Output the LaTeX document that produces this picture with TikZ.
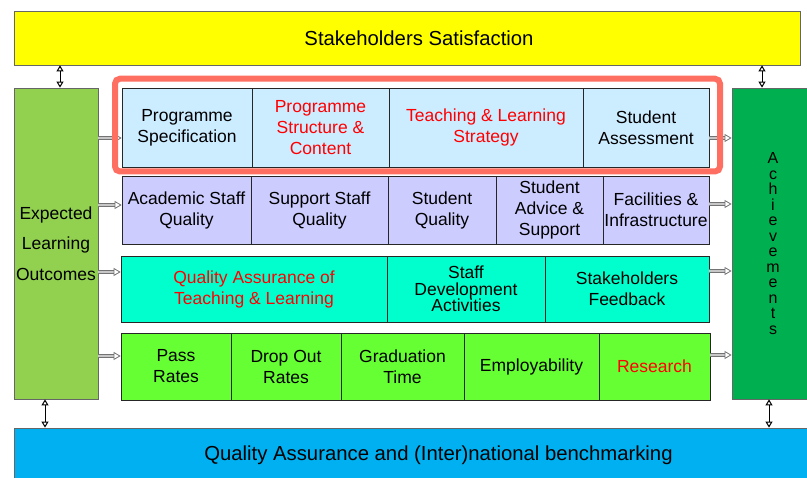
\documentclass[tikz,border=0pt]{standalone}
\usepackage{fontspec}
\setmainfont{Liberation Sans}
\usetikzlibrary{arrows.meta,positioning}
\definecolor{sunyellow}{RGB}{255,255,0}
\definecolor{outcomegreen}{RGB}{146,208,80}
\definecolor{achievegreen}{RGB}{0,176,80}
\definecolor{benchblue}{RGB}{0,176,240}
\definecolor{progblue}{RGB}{204,236,255}
\definecolor{inputlilac}{RGB}{204,204,255}
\definecolor{qaaqua}{RGB}{0,255,204}
\definecolor{resultgreen}{RGB}{102,255,51}
\definecolor{focusred}{RGB}{255,111,97}

\begin{document}
\begin{tikzpicture}[x=1pt,y=-1pt,
  every node/.style={font=\fontsize{17.5}{21}\selectfont, align=center, inner sep=0pt},
  band/.style={draw=black!60, line width=0.8pt},
  cell/.style={draw=black!85, line width=0.7pt},
  feedarrow/.style={draw=black!55, line width=0.8pt, double=black!22, double distance=1.6pt,
    -{Triangle[open,length=7pt,width=8pt]}},
  linkarrow/.style={draw=black, line width=1pt,
    {Triangle[open,length=6pt,width=7pt]}-{Triangle[open,length=6pt,width=7pt]}},
  focusbox/.style={draw=focusred, line width=6pt, rounded corners=5pt}]

  \useasboundingbox (0,0) rectangle (807,478);
  \clip (0,0) rectangle (807,478);

  % Outer frame
  \node[band, fill=sunyellow, minimum width=786, minimum height=54, font=\fontsize{20.3}{24}\selectfont] (top) at (407,38) {\hspace*{24pt}Stakeholders Satisfaction};
  \node[band, fill=outcomegreen, minimum width=84, minimum height=311, font=\fontsize{17.5}{30.5}\selectfont] (elo) at (56,243.5)
    {Expected\\Learning\\Outcomes};
  \node[band, fill=achievegreen, minimum width=82, minimum height=311, font=\fontsize{16}{15.5}\selectfont] (achieve) at (773,243.5)
    {A\\c\\h\\i\\e\\v\\e\\m\\e\\n\\t\\s};
  \node[band, fill=benchblue, minimum width=800, minimum height=54, font=\fontsize{20.3}{24}\selectfont] (bench) at (414,455)
    {\hspace*{49pt}Quality Assurance and (Inter)national benchmarking};

  % Programme row
  \node[cell, fill=progblue, minimum width=130, minimum height=79] (spec) at (187,127.5) {Programme\\Specification};
  \node[cell, fill=progblue, minimum width=137, minimum height=79, text=red] (struct) at (320.5,127.5) {Programme\\Structure \&\\Content};
  \node[cell, fill=progblue, minimum width=194, minimum height=79, text=red] (teach) at (486,127.5) {Teaching \& Learning\\Strategy};
  \node[cell, fill=progblue, minimum width=126, minimum height=79] (assess) at (646,127.5) {Student\\Assessment};

  % Resources row
  \node[cell, fill=inputlilac, minimum width=129, minimum height=68] (acad) at (186.5,210) {Academic Staff\\Quality};
  \node[cell, fill=inputlilac, minimum width=137, minimum height=68] (support) at (319.5,210) {Support Staff\\Quality};
  \node[cell, fill=inputlilac, minimum width=108, minimum height=68] (squal) at (442,210) {Student\\Quality};
  \node[cell, fill=inputlilac, minimum width=107, minimum height=68] (advice) at (549.5,210) {Student\\Advice \&\\Support};
  \node[cell, fill=inputlilac, minimum width=106, minimum height=68] (facil) at (656,210) {Facilities \&\\Infrastructure};

  % Quality assurance row
  \node[cell, fill=qaaqua, minimum width=266, minimum height=66, text=red] (qatl) at (254,289) {Quality Assurance of\\Teaching \& Learning};
  \node[cell, fill=qaaqua, minimum width=158, minimum height=66, font=\fontsize{17.5}{16.5}\selectfont] (staffdev) at (466,289)
    {Staff\\Development\\Activities};
  \node[cell, fill=qaaqua, minimum width=164, minimum height=66] (feedback) at (627,289) {Stakeholders\\Feedback};

  % Results row
  \node[cell, fill=resultgreen, minimum width=110, minimum height=67] (pass) at (176,366.5) {Pass\\Rates};
  \node[cell, fill=resultgreen, minimum width=110, minimum height=67] (drop) at (286,366.5) {Drop Out\\Rates};
  \node[cell, fill=resultgreen, minimum width=123, minimum height=67] (grad) at (402.5,366.5) {Graduation\\Time};
  \node[cell, fill=resultgreen, minimum width=135, minimum height=67] (employ) at (531.5,366.5) {Employability};
  \node[cell, fill=resultgreen, minimum width=111, minimum height=67, text=red] (research) at (654.5,366.5) {Research};

  % Links
  \foreach \row/\ypos in {spec/138, acad/205, qatl/272, pass/356}
    \draw[feedarrow] (elo.east |- 0,\ypos) -- (\row.west |- 0,\ypos);
  \foreach \row/\ypos in {assess/138, facil/204, feedback/271, research/355}
    \draw[feedarrow] (\row.east |- 0,\ypos) -- (achieve.west |- 0,\ypos);

  \draw[linkarrow] (top.south -| 60,0) -- (elo.north -| 60,0);
  \draw[linkarrow] (top.south -| 762,0) -- (achieve.north -| 762,0);
  \draw[linkarrow] (elo.south -| 45,0) -- (bench.north -| 45,0);
  \draw[linkarrow] (achieve.south -| 769,0) -- (bench.north -| 769,0);

  % Highlight
  \draw[focusbox] (115,78.7) rectangle (720,171.5);
\end{tikzpicture}
\end{document}
